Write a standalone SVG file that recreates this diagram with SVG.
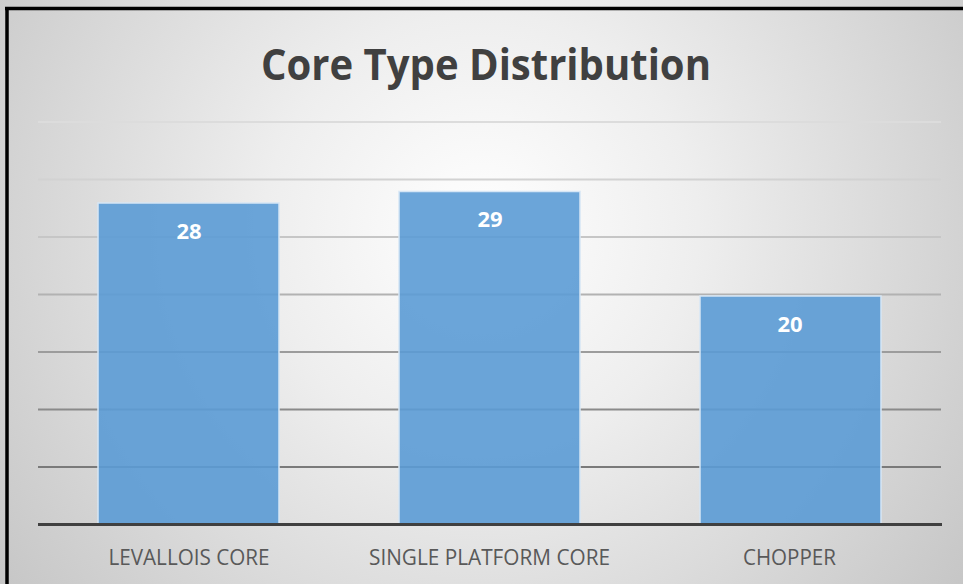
<svg xmlns="http://www.w3.org/2000/svg" width="963" height="584" viewBox="0 0 963 584">
<defs>
<radialGradient id="bg" cx="481" cy="230" r="620" gradientUnits="userSpaceOnUse">
<stop offset="0" stop-color="#ffffff"/>
<stop offset="0.35" stop-color="#eeeeee"/>
<stop offset="1" stop-color="#c4c4c4"/>
</radialGradient>
<style>
.grid{stroke-width:2;fill:none}
.bar{fill:#5b9bd5;fill-opacity:0.9;stroke:#d6e6f5;stroke-width:1.5}
.val{font-family:"Open Sans","Noto Sans",sans-serif;font-weight:bold;font-size:22px;fill:#ffffff;text-anchor:middle}
.cat{font-family:"Open Sans","Noto Sans",sans-serif;font-size:21px;fill:#595959;text-anchor:middle}
.title{font-family:"Open Sans","Noto Sans",sans-serif;font-weight:bold;font-size:43px;fill:#404040;text-anchor:middle}
</style>
</defs>
<rect x="0" y="0" width="963" height="584" fill="url(#bg)"/>
<g id="frame" stroke="#000" stroke-width="3.5" fill="none">
<line x1="5" y1="8.5" x2="963" y2="8.5"/>
<line x1="7" y1="7" x2="7" y2="584"/>
</g>
<text id="title" class="title" x="486" y="80" textLength="450" lengthAdjust="spacingAndGlyphs">Core Type Distribution</text>
<g id="gridlines">
<line class="grid" x1="38" y1="122" x2="941" y2="122" stroke="#dcdcdc"/>
<line class="grid" x1="38" y1="179.5" x2="941" y2="179.5" stroke="#d2d2d2"/>
<line class="grid" x1="38" y1="237" x2="941" y2="237" stroke="#c6c6c6"/>
<line class="grid" x1="38" y1="294.5" x2="941" y2="294.5" stroke="#b2b2b2"/>
<line class="grid" x1="38" y1="352" x2="941" y2="352" stroke="#9c9c9c"/>
<line class="grid" x1="38" y1="409.5" x2="941" y2="409.5" stroke="#8a8a8a"/>
<line class="grid" x1="38" y1="467" x2="941" y2="467" stroke="#7a7a7a"/>
</g>
<g id="bar-levallois">
<rect class="bar" x="98" y="203" width="181" height="321"/>
<text class="val" x="189" y="239">28</text>
<text class="cat" x="189" y="565" textLength="161" lengthAdjust="spacingAndGlyphs">LEVALLOIS CORE</text>
</g>
<g id="bar-single-platform">
<rect class="bar" x="399" y="191.5" width="181" height="332.5"/>
<text class="val" x="490" y="227">29</text>
<text class="cat" x="489.5" y="565" textLength="241" lengthAdjust="spacingAndGlyphs">SINGLE PLATFORM CORE</text>
</g>
<g id="bar-chopper">
<rect class="bar" x="700" y="296" width="181" height="228"/>
<text class="val" x="790" y="332">20</text>
<text class="cat" x="789.5" y="565" textLength="93" lengthAdjust="spacingAndGlyphs">CHOPPER</text>
</g>
<g id="axis">
<line x1="38" y1="524.5" x2="942" y2="524.5" stroke="#404040" stroke-width="3"/>
</g>
</svg>
